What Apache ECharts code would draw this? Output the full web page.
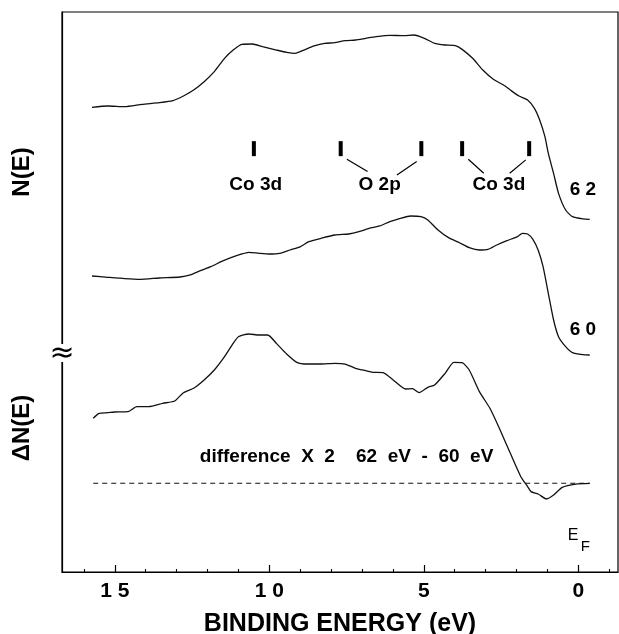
<!DOCTYPE html>
<html>
<head>
<meta charset="utf-8">
<script src="https://cdn.jsdelivr.net/npm/echarts@6/dist/echarts.min.js"></script>
<style>html,body{margin:0;padding:0;background:#fff}#c{width:619px;height:634px}</style>
</head>
<body>
<div id="c"></div>
<script>
// Binding energy (eV) and intensity (arbitrary units) for each curve
const e62 = [15.74,15.23,14.68,14.12,13.56,13.12,12.78,12.45,12.11,11.78,11.45,11.17,10.89,10.55,10.22,9.77,9.44,9.16,8.88,8.55,8.21,7.88,7.55,7.21,6.88,6.54,6.10,5.65,5.32,4.98,4.65,4.31,3.98,3.76,3.42,3.09,2.75,2.42,2.20,1.92,1.64,1.42,1.25,1.08,0.97,0.80,0.64,0.41,0.19,-0.15,-0.37];
const n62 = [82.98,83.21,83.10,83.51,83.81,84.17,85.00,86.07,87.56,89.35,91.73,93.21,94.23,94.29,93.81,93.21,92.80,92.62,93.21,93.93,94.40,94.52,94.88,95.00,95.30,95.60,95.83,95.77,95.89,95.30,94.40,94.11,93.99,93.33,91.73,89.64,87.98,86.96,86.07,85.00,84.29,82.80,80.71,77.74,74.76,71.19,67.62,64.64,63.45,63.04,62.98];

const e60 = [15.74,15.23,14.68,14.18,13.56,12.89,12.56,12.23,11.89,11.56,11.22,10.89,10.67,10.33,10.00,9.66,9.33,8.99,8.72,8.33,7.88,7.43,7.10,6.77,6.43,6.10,5.76,5.43,5.09,4.87,4.54,4.20,3.87,3.53,3.20,2.92,2.64,2.31,1.97,1.81,1.64,1.47,1.30,1.14,0.97,0.80,0.64,0.41,0.19,-0.15,-0.37];
const n60 = [52.86,52.62,52.38,52.26,52.50,52.68,53.04,53.81,54.52,55.42,56.19,56.79,57.08,56.91,56.79,56.91,57.50,58.10,58.99,59.58,60.18,60.36,60.77,61.37,61.79,62.56,63.15,63.57,63.45,62.86,61.07,59.70,58.87,57.92,57.50,57.62,58.39,59.17,59.88,60.48,60.36,59.40,57.50,54.52,49.76,45.00,42.02,40.24,39.17,38.81,38.75];

const eDiff = [15.70,15.51,15.23,15.01,14.57,14.29,13.90,13.45,13.06,12.78,12.45,12.11,11.78,11.45,11.17,11.00,10.67,10.33,10.05,9.77,9.44,9.11,8.77,8.33,7.88,7.55,7.21,6.88,6.65,6.32,5.99,5.59,5.37,5.15,4.87,4.65,4.31,4.03,3.76,3.53,3.20,2.86,2.53,2.20,1.86,1.64,1.53,1.30,1.03,0.80,0.52,0.08,-0.37];
const nDiff = [27.44,28.33,28.45,28.57,28.63,29.52,29.52,30.12,30.54,32.02,32.80,34.29,36.07,38.45,40.83,42.02,42.50,42.32,42.32,40.83,38.93,37.44,37.14,37.14,37.26,37.14,36.37,35.95,35.66,35.60,34.29,32.68,32.74,32.02,32.98,33.39,35.48,37.44,37.38,36.07,32.20,29.23,25.36,21.19,17.02,15.24,14.35,13.93,13.04,13.75,15.12,15.71,15.83];

const eBase = [15.70, -0.37];
const nBase = [15.84, 15.84];

// Peak markers (binding energies)
const markerE = [10.50, 7.69, 5.08, 3.76, 1.59];
const markerN = 75.6;

// Tick values
const majorTicks = [0, 5, 10, 15];
const minorTicks = [-1, 1, 2, 3, 4, 6, 7, 8, 9, 11, 12, 13, 14, 16];

const zip = (a, b) => a.map((v, i) => [v, b[i]]);
const FONT = 'Liberation Sans, Arial, Helvetica, sans-serif';
const chart = echarts.init(document.getElementById('c'), null, {renderer: 'canvas'});

const lineStyle = {color: '#111', width: 1.3};
const textLabels = [
  {name: 'Co 3d', value: [10.44, 69.1]},
  {name: 'O 2p', value: [6.43, 69.1]},
  {name: 'Co 3d', value: [2.57, 69.1]},
  {name: '6 2', value: [-0.15, 68.2]},
  {name: '6 0', value: [-0.15, 43.3]},
  {name: 'difference  X  2    62  eV  -  60  eV', value: [7.50, 20.5]}
];
const labelCommon = {show: true, position: 'inside', color: '#000', opacity: 1, textBorderWidth: 0, fontFamily: FONT};

const option = {
  animation: false,
  backgroundColor: '#fff',
  grid: {left: 62, right: 1, top: 12, bottom: 62, containLabel: false, outerBoundsMode: 'none',
    show: true, borderColor: '#000', borderWidth: 1.2, backgroundColor: 'transparent'},
  xAxis: [{
    type: 'value', min: -1.285, max: 16.71, inverse: true, position: 'bottom',
    axisLine: {show: true, onZero: false, lineStyle: {color: '#000', width: 1.2}},
    splitLine: {show: false},
    axisTick: {show: true, inside: true, length: 7, customValues: majorTicks, lineStyle: {color: '#000', width: 1.2}},
    axisLabel: {show: true, customValues: majorTicks, color: '#000', fontSize: 21, fontWeight: 'bold', fontFamily: FONT, margin: 9,
      formatter: v => String(v).split('').join(' ')},
    name: 'BINDING ENERGY (eV)', nameLocation: 'middle', nameGap: 40,
    nameTextStyle: {color: '#000', fontSize: 25, fontWeight: 'bold', fontFamily: FONT}
  }, {
    type: 'value', min: -1.285, max: 16.71, inverse: true, position: 'bottom',
    axisLine: {show: false, onZero: false}, splitLine: {show: false},
    axisTick: {show: true, inside: true, length: 3, customValues: minorTicks, lineStyle: {color: '#000', width: 1.1}},
    axisLabel: {show: false, customValues: minorTicks}
  }],
  yAxis: {
    type: 'value', min: 0, max: 100, position: 'left',
    axisLine: {show: true, onZero: false, lineStyle: {color: '#000', width: 1.2}},
    axisTick: {show: false}, axisLabel: {show: false}, splitLine: {show: false}
  },
  series: [
    {type: 'line', data: zip(e62, n62), symbol: 'none', lineStyle, smooth: 0.2},
    {type: 'line', data: zip(e60, n60), symbol: 'none', lineStyle, smooth: 0.2},
    {type: 'line', data: zip(eDiff, nDiff), symbol: 'none', lineStyle, smooth: 0.2},
    {type: 'line', data: zip(eBase, nBase), symbol: 'none', lineStyle: {color: '#111', width: 1.1, type: [5, 4]}},
    {type: 'scatter', data: markerE.map(e => [e, markerN]), symbol: 'rect', symbolSize: [4, 15], itemStyle: {color: '#000', opacity: 1}},
    {type: 'lines', coordinateSystem: 'cartesian2d', lineStyle: {color: '#000', width: 1.2, opacity: 1},
      data: [
        {coords: [[7.49, 73.7], [6.82, 71.5]]},
        {coords: [[5.23, 73.3], [5.87, 70.9]]},
        {coords: [[3.56, 73.7], [3.06, 71.2]]},
        {coords: [[1.70, 73.6], [2.22, 71.2]]}
      ]},
    {type: 'scatter', data: textLabels, symbolSize: 0, silent: true, itemStyle: {opacity: 1, color: '#000'},
      label: Object.assign({}, labelCommon, {formatter: p => p.name, fontSize: 19, fontWeight: 'bold'})},
    {type: 'scatter', data: [{name: 'E', value: [0.17, 6.45]}], symbolSize: 0, silent: true, itemStyle: {opacity: 1, color: '#000'},
      label: Object.assign({}, labelCommon, {formatter: 'E', fontSize: 16})},
    {type: 'scatter', data: [{name: 'F', value: [-0.23, 4.46]}], symbolSize: 0, silent: true, itemStyle: {opacity: 1, color: '#000'},
      label: Object.assign({}, labelCommon, {formatter: 'F', fontSize: 15})}
  ],
  graphic: [
    {type: 'text', x: 22, y: 172, rotation: Math.PI / 2, z: 10,
      style: {text: 'N(E)', x: 0, y: 0, textAlign: 'center', textVerticalAlign: 'middle', align: 'center', verticalAlign: 'middle', font: 'bold 24px ' + FONT, fill: '#000'}},
    {type: 'text', x: 22, y: 428, rotation: Math.PI / 2, z: 10,
      style: {text: 'ΔN(E)', x: 0, y: 0, textAlign: 'center', textVerticalAlign: 'middle', align: 'center', verticalAlign: 'middle', font: 'bold 24px ' + FONT, fill: '#000'}},
    {type: 'rect', shape: {x: 58, y: 344, width: 8, height: 18}, style: {fill: '#fff'}, z: 10},
    {type: 'text', x: 62, y: 354, z: 11,
      style: {text: '≈', x: 0, y: 0, textAlign: 'center', textVerticalAlign: 'middle', align: 'center', verticalAlign: 'middle', font: '30px DejaVu Sans', fill: '#000'}}
  ]
};
chart.setOption(option);
</script>
</body>
</html>
